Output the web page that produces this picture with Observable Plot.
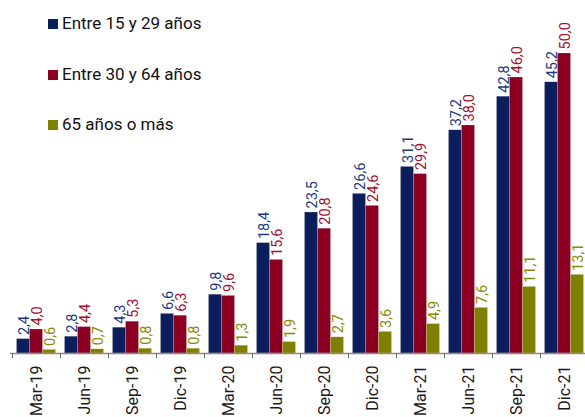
<!DOCTYPE html>
<html>
<head>
<meta charset="utf-8">
<script src="https://cdn.jsdelivr.net/npm/d3@7"></script>
<script src="https://cdn.jsdelivr.net/npm/@observablehq/plot@0.6"></script>
<style>
  html, body { margin: 0; padding: 0; background: #fff; overflow: hidden; }
  #wrap { position: relative; width: 585px; height: 417px; font-family: Roboto, sans-serif; }
  .leg { position: absolute; left: 48px; font-size: 17px; line-height: 20px; color: #111; white-space: nowrap; }
  .leg span.sw { display: inline-block; width: 10px; height: 10px; margin-right: 4px; vertical-align: baseline; }
</style>
</head>
<body>
<div id="wrap"></div>
<script>
const periods = ["Mar-19","Jun-19","Sep-19","Dic-19","Mar-20","Jun-20","Sep-20","Dic-20","Mar-21","Jun-21","Sep-21","Dic-21"];
const seriesNames = ["Entre 15 y 29 años","Entre 30 y 64 años","65 años o más"];
const young = [2.4, 2.8, 4.3, 6.6, 9.8, 18.4, 23.5, 26.6, 31.1, 37.2, 42.8, 45.2];
const adult = [4.0, 4.4, 5.3, 6.3, 9.6, 15.6, 20.8, 24.6, 29.9, 38.0, 46.0, 50.0];
const senior = [0.6, 0.7, 0.8, 0.8, 1.3, 1.9, 2.7, 3.6, 4.9, 7.6, 11.1, 13.1];
const barColors = ["#0b1f5c", "#8b0022", "#808000"];
const labelColors = ["#1d3b7c", "#a3102e", "#8a8a05"];

const seriesValues = [young, adult, senior];
const offsets = [-13, 0, 13];
const fmt = v => v.toFixed(1).replace(".", ",");

const marks = [];
seriesValues.forEach((vals, s) => {
  const data = periods.map((p, i) => ({period: p, value: vals[i]}));
  marks.push(Plot.barY(data, {
    x: "period", y: "value", fill: barColors[s],
    stroke: "#ffffff", strokeOpacity: 0.35, strokeWidth: 0.5,
    insetLeft: 17.5, insetRight: 17.5, dx: offsets[s]
  }));
  marks.push(Plot.text(data, {
    x: "period", y: "value", text: d => fmt(d.value),
    rotate: -90, textAnchor: "start", lineAnchor: "middle",
    dx: offsets[s] + 0.5, dy: -4, fill: labelColors[s], fontSize: 14.5
  }));
});
marks.push(Plot.ruleY([0], {stroke: "#8a8a8a", strokeWidth: 1.3, insetLeft: -2}));
marks.push(Plot.axisX({text: null, tickSize: 5, dx: -24, stroke: "#666"}));
marks.push(Plot.axisX({tickSize: 0, tickPadding: 12, tickRotate: -90, fontSize: 16, fill: "#1a1a1a", label: null}));

const chart = Plot.plot({
  width: 585,
  height: 417,
  marginTop: 53,
  marginBottom: 64,
  marginLeft: 12,
  marginRight: -3,
  style: {fontFamily: "Roboto, sans-serif", background: "transparent"},
  x: {domain: periods, padding: 0, label: null},
  y: {domain: [0, 50], axis: null},
  marks
});
const wrap = document.getElementById("wrap");
wrap.appendChild(chart);
const tops = [13, 64, 114];
seriesNames.forEach((n, i) => {
  const d = document.createElement("div");
  d.className = "leg";
  d.style.top = tops[i] + "px";
  d.innerHTML = `<span class="sw" style="background:${barColors[i]}"></span>${n}`;
  wrap.appendChild(d);
});
</script>
</body>
</html>
